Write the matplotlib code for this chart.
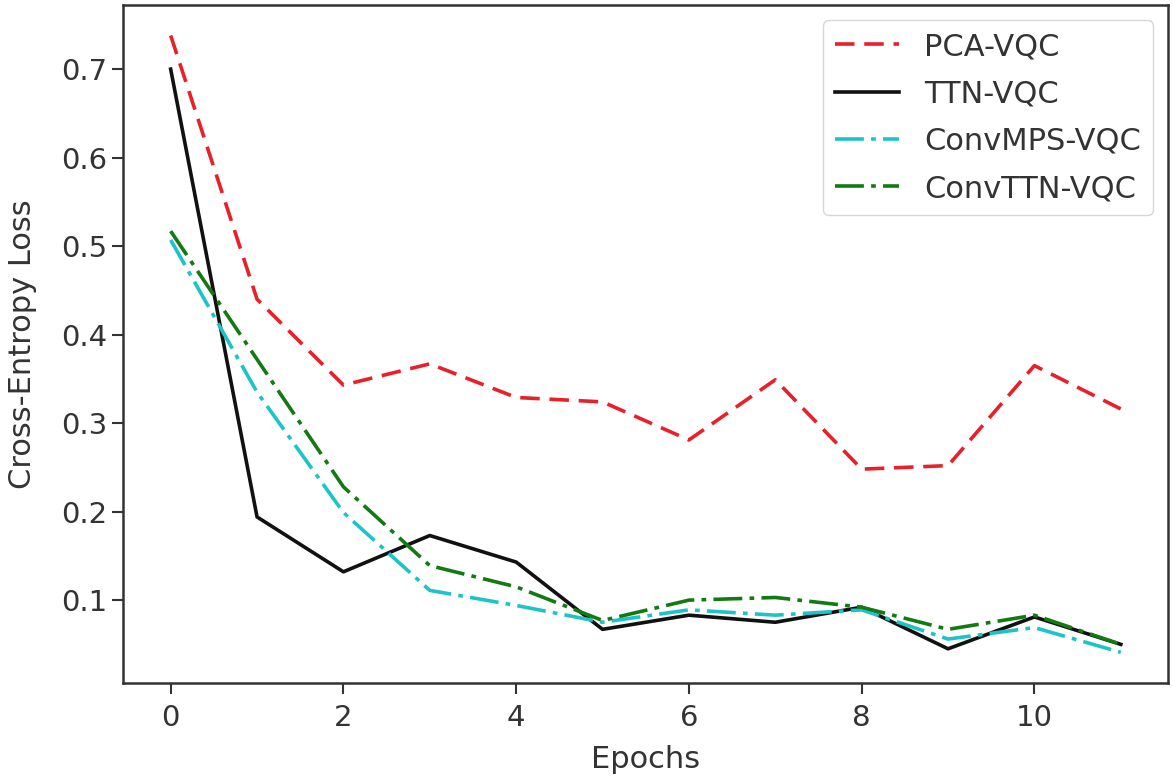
import matplotlib
matplotlib.use("Agg")
import matplotlib.pyplot as plt

epochs = list(range(12))

pca_vqc = [0.738, 0.44, 0.343, 0.367, 0.329, 0.324, 0.281, 0.349, 0.248, 0.252, 0.365, 0.316]
ttn_vqc = [0.70, 0.194, 0.132, 0.173, 0.143, 0.067, 0.083, 0.075, 0.092, 0.045, 0.081, 0.050]
convmps_vqc = [0.507, 0.335, 0.199, 0.111, 0.094, 0.075, 0.089, 0.083, 0.089, 0.056, 0.069, 0.041]
convttn_vqc = [0.517, 0.372, 0.228, 0.139, 0.115, 0.077, 0.100, 0.103, 0.092, 0.067, 0.083, 0.050]

fig = plt.figure(figsize=(11.73, 7.79), dpi=100)
ax = fig.add_axes([0.105, 0.123, 0.891, 0.871])

lw = 2.6
ax.plot(epochs, pca_vqc, color="#e8202a", ls="--", dashes=(5.4, 2.7), lw=lw, label="PCA-VQC")
ax.plot(epochs, ttn_vqc, color="#111111", ls="-", lw=lw, label="TTN-VQC")
ax.plot(epochs, convmps_vqc, color="#1cc4c8", ls="-.", dashes=(8, 2, 1.3, 2), lw=lw, label="ConvMPS-VQC")
ax.plot(epochs, convttn_vqc, color="#137a13", ls="-.", dashes=(8, 2, 1.3, 2), lw=lw, label="ConvTTN-VQC")

ax.set_xlabel("Epochs", fontsize=22, color="#333333", labelpad=9)
ax.set_ylabel("Cross-Entropy Loss", fontsize=22, color="#333333", labelpad=17)
ax.tick_params(labelsize=21, length=8, width=1.5, labelcolor="#333333", colors="#333333")
ax.tick_params(axis="x", pad=7)
for s in ax.spines.values():
    s.set_linewidth(1.8)
    s.set_color("#333333")
leg = ax.legend(loc="upper right", fontsize=22, handlelength=2.1, labelspacing=0.6)
for t in leg.get_texts():
    t.set_color("#333333")

fig.savefig("out.png", dpi=100)
